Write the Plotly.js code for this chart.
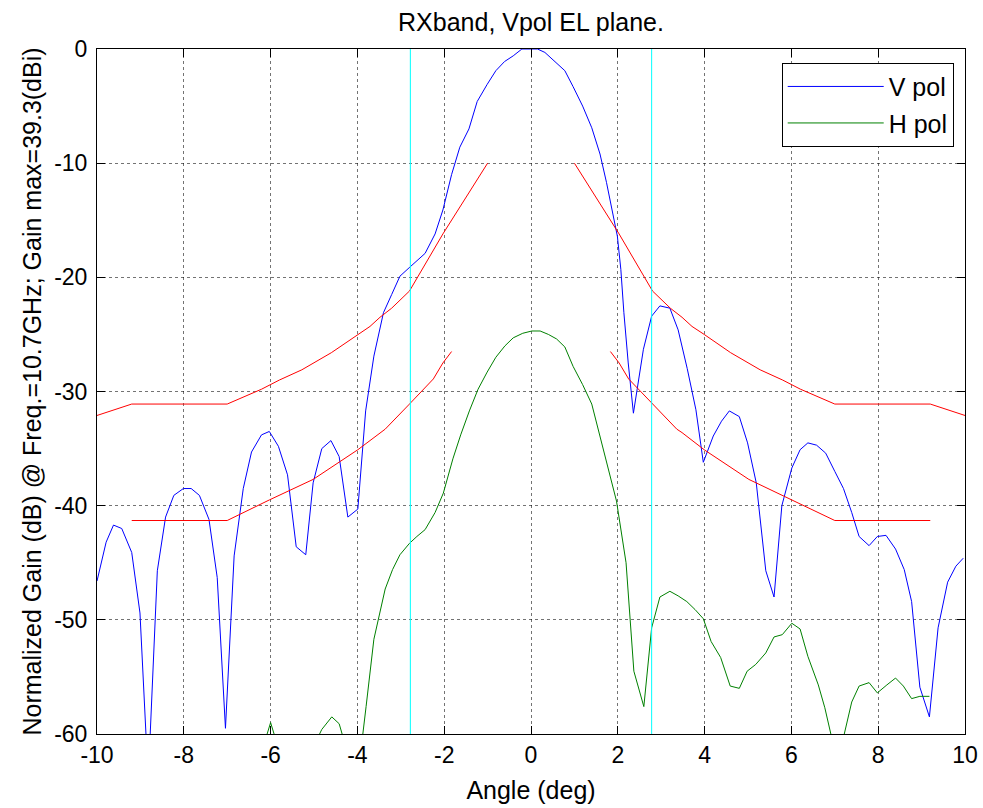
<!DOCTYPE html>
<html><head><meta charset="utf-8">
<script src="https://cdn.plot.ly/plotly-3.0.1.min.js"></script>
<style>html,body{margin:0;padding:0;background:#fff;}#chart{width:983px;height:808px;}</style>
</head><body><div id="chart"></div>
<script>
// V pol pattern (angle in deg, normalized gain in dB)
const vAngle = [-10.00,-9.79,-9.62,-9.43,-9.20,-9.01,-8.82,-8.61,-8.42,-8.23,-8.01,-7.83,-7.64,-7.42,-7.23,-7.04,-6.84,-6.63,-6.44,-6.21,-6.03,-5.82,-5.61,-5.41,-5.19,-5.02,-4.82,-4.61,-4.42,-4.22,-3.99,-3.81,-3.62,-3.40,-3.21,-3.02,-2.79,-2.61,-2.44,-2.21,-2.03,-1.83,-1.64,-1.43,-1.24,-1.01,-0.81,-0.61,-0.41,-0.21,-0.03,0.15,0.32,0.55,0.78,0.97,1.19,1.40,1.59,1.74,1.88,1.99,2.07,2.14,2.24,2.36,2.59,2.78,2.97,3.20,3.39,3.60,3.80,3.97,4.20,4.39,4.57,4.80,4.99,5.19,5.41,5.60,5.78,6.01,6.20,6.38,6.58,6.79,7.00,7.20,7.39,7.56,7.79,7.98,8.18,8.40,8.60,8.77,8.96,9.18,9.38,9.60,9.79,9.96];
const vGain = [-46.6,-43.2,-41.7,-42.0,-44.1,-49.4,-64.0,-45.7,-41.0,-39.1,-38.5,-38.5,-39.1,-41.2,-46.3,-59.5,-44.4,-38.5,-35.3,-33.8,-33.5,-34.8,-37.3,-43.6,-44.3,-38.0,-35.0,-34.3,-35.7,-41.0,-40.3,-31.7,-26.9,-23.1,-21.5,-19.9,-19.1,-18.5,-17.9,-16.2,-14.1,-11.0,-8.6,-7.0,-4.6,-3.1,-1.9,-1.1,-0.6,0.0,0.0,0.0,-0.3,-1.1,-1.9,-3.3,-5.0,-6.9,-9.2,-11.7,-14.2,-16.4,-19.3,-23.1,-27.5,-31.9,-26.3,-23.4,-22.5,-22.7,-24.6,-28.0,-31.6,-36.2,-33.9,-32.6,-31.7,-32.2,-34.5,-38.0,-45.7,-48.0,-40.0,-36.7,-35.1,-34.5,-34.7,-35.4,-37.0,-38.5,-40.6,-42.7,-43.5,-42.7,-42.6,-43.8,-45.6,-48.4,-55.9,-58.5,-50.7,-46.7,-45.3,-44.6];

// H pol pattern
const hAngle = [-6.20,-6.00,-5.80,-5.40,-5.00,-4.82,-4.59,-4.42,-4.20,-4.00,-3.80,-3.62,-3.36,-3.19,-3.02,-2.80,-2.63,-2.44,-2.21,-2.02,-1.80,-1.62,-1.42,-1.22,-1.01,-0.81,-0.60,-0.41,-0.19,0.02,0.21,0.40,0.59,0.78,0.97,1.19,1.40,1.59,1.78,1.97,2.19,2.37,2.60,2.78,2.97,3.20,3.39,3.59,3.78,3.97,4.15,4.37,4.59,4.80,4.98,5.18,5.41,5.60,5.79,6.01,6.20,6.38,6.62,6.77,7.00,7.20,7.39,7.56,7.79,7.98,8.20,8.40,8.58,8.77,8.96,9.18];
const hGain = [-61.5,-59.0,-61.5,-64.0,-61.0,-59.6,-58.5,-59.1,-62.0,-64.0,-57.6,-51.7,-47.3,-45.6,-44.3,-43.3,-42.7,-42.1,-40.6,-38.9,-35.9,-33.8,-31.7,-29.8,-28.3,-27.0,-26.0,-25.3,-24.9,-24.7,-24.7,-25.0,-25.4,-26.1,-27.8,-29.4,-31.1,-34.0,-36.8,-39.6,-45.0,-54.5,-57.6,-50.7,-48.0,-47.5,-47.9,-48.4,-49.1,-49.9,-51.9,-53.3,-55.8,-56.0,-54.5,-53.9,-52.9,-51.5,-51.3,-50.3,-50.8,-53.2,-55.7,-57.7,-61.5,-60.3,-57.2,-55.8,-55.5,-56.4,-55.7,-55.1,-55.8,-56.9,-56.7,-56.7];

// Upper mask (red)
const maskUpLeftAngle = [-10.0,-9.2,-7.0,-6.63,-6.21,-5.80,-5.28,-4.60,-3.99,-3.71,-3.48,-3.21,-2.80,-2.03,-1.0];
const maskUpLeftGain = [-32.1,-31.1,-31.1,-30.5,-29.8,-29.0,-28.1,-26.6,-25.0,-24.3,-23.5,-22.7,-21.2,-16.2,-10.0];
const maskUpRightAngle = [1.0,2.03,2.80,3.21,3.48,3.71,3.99,4.60,5.28,5.80,6.21,6.63,7.0,9.2,10.0];
const maskUpRightGain = [-10.0,-16.2,-21.2,-22.7,-23.5,-24.3,-25.0,-26.6,-28.1,-29.0,-29.8,-30.5,-31.1,-31.1,-32.1];

// Lower mask (red)
const maskLowLeftAngle = [-9.2,-7.0,-6.03,-5.02,-3.99,-3.48,-3.36,-2.80,-2.48,-2.25,-2.03,-1.83];
const maskLowLeftGain = [-41.3,-41.3,-39.5,-37.7,-35.1,-33.6,-33.3,-31.1,-29.8,-28.9,-27.5,-26.5];
const maskLowRightAngle = [1.83,2.03,2.25,2.48,2.80,3.36,3.48,3.99,5.02,6.03,7.0,9.2];
const maskLowRightGain = [-26.5,-27.5,-28.9,-29.8,-31.1,-33.3,-33.6,-35.1,-37.7,-39.5,-41.3,-41.3];

// Cyan markers (band edges)
const cyanAngles = [-2.78, 2.78];

const xTicks = [-10,-8,-6,-4,-2,0,2,4,6,8,10];
const yTicks = [-60,-50,-40,-30,-20,-10,0];
const xRange = [-10, 10];
const yRange = [-60, 0];

const FONT = 'Liberation Sans, Arial, Helvetica, sans-serif';

const cx = [], cy = [];
cyanAngles.forEach(a => { cx.push(a, a, null); cy.push(yRange[1], yRange[0], null); });

const traces = [
  {x: vAngle, y: vGain, type: 'scatter', mode: 'lines', name: 'V pol', legendgroup: 'v', line: {color: '#0000ff', width: 1}},
  {x: hAngle, y: hGain, type: 'scatter', mode: 'lines', name: 'H pol', legendgroup: 'h', line: {color: '#008000', width: 1}},
  {x: maskUpLeftAngle, y: maskUpLeftGain, type: 'scatter', mode: 'lines', showlegend: false, line: {color: '#ff0000', width: 1}},
  {x: maskUpRightAngle, y: maskUpRightGain, type: 'scatter', mode: 'lines', showlegend: false, line: {color: '#ff0000', width: 1}},
  {x: maskLowLeftAngle, y: maskLowLeftGain, type: 'scatter', mode: 'lines', showlegend: false, line: {color: '#ff0000', width: 1}},
  {x: maskLowRightAngle, y: maskLowRightGain, type: 'scatter', mode: 'lines', showlegend: false, line: {color: '#ff0000', width: 1}},
  {x: cx, y: cy, type: 'scatter', mode: 'lines', showlegend: false, line: {color: '#00ffff', width: 1}}
];

const axisCommon = {
  showline: true, linecolor: '#000', linewidth: 1, mirror: 'ticks',
  ticks: 'inside', ticklen: 8, tickcolor: '#000', tickwidth: 1,
  showgrid: true, gridcolor: 'rgba(0,0,0,0.55)', griddash: 'dot', gridwidth: 1,
  zeroline: false, tickfont: {family: FONT, size: 23, color: '#000'}
};

const layout = {
  width: 983, height: 808,
  margin: {l: 97, r: 18, t: 49, b: 74, pad: 0},
  paper_bgcolor: '#fff', plot_bgcolor: '#fff',
  font: {family: FONT, color: '#000'},
  title: {text: 'RXband, Vpol EL plane.', font: {family: FONT, size: 25, color: '#000'},
          x: 0.5, xref: 'paper', y: 1 - 22/808, yref: 'container', yanchor: 'middle'},
  xaxis: Object.assign({}, axisCommon, {range: xRange, tickvals: xTicks, ticktext: xTicks.map(String),
    title: {text: 'Angle (deg)', font: {family: FONT, size: 25, color: '#000'}, standoff: 14}}),
  yaxis: Object.assign({}, axisCommon, {range: yRange, tickvals: yTicks, ticktext: yTicks.map(String),
    ticklabelstandoff: 4,
    title: {text: 'Normalized Gain (dB) @ Freq.=10.7GHz; Gain max=39.3(dBi)', font: {family: FONT, size: 25, color: '#000'}, standoff: 5}}),
  showlegend: true,
  legend: {x: 0.987, y: 0.98, xanchor: 'right', yanchor: 'top', bgcolor: '#fff', bordercolor: '#000', borderwidth: 1,
           font: {family: FONT, size: 25, color: '#000'}, itemwidth: 96, tracegroupgap: 1, traceorder: 'grouped'}
};

Plotly.newPlot('chart', traces, layout, {displayModeBar: false, staticPlot: true});
</script>
</body></html>
